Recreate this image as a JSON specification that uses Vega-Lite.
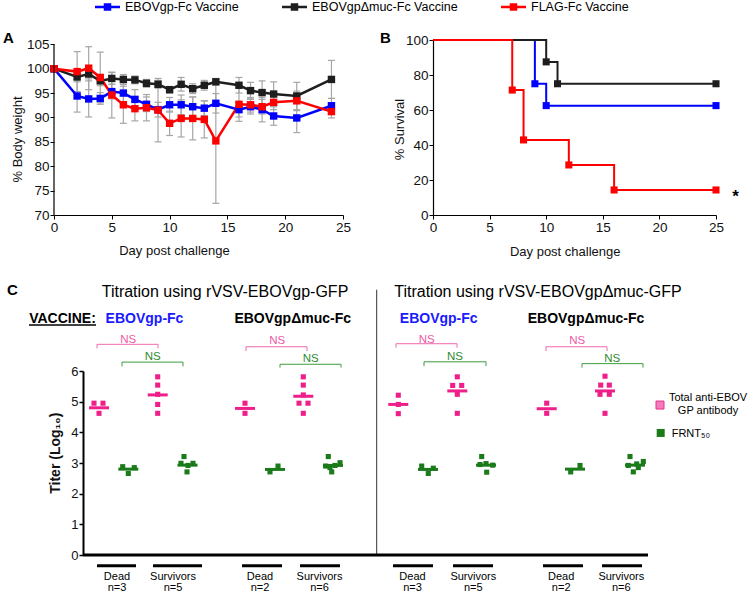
{
  "$schema": "https://vega.github.io/schema/vega-lite/v6.json",
  "padding": {"left": 3, "top": 0, "right": 0, "bottom": 0},
  "background": "white",
  "columns": 2,
  "bounds": "flush",
  "spacing": {"row": 156, "column": 90},
  "config": {
    "font": "Liberation Sans",
    "view": {"stroke": null},
    "axis": {"grid": false, "domainColor": "#000", "domainWidth": 1.2, "tickColor": "#000", "tickSize": 4, "labelColor": "#111", "labelFontSize": 13.5, "labelPadding": 1, "labelFlush": false, "titleColor": "#111", "titleFontSize": 13, "titleFontWeight": "normal"}
  },
  "datasets": {
    "weight": [
      {"vaccine": "EBOVgp-Fc Vaccine", "day": 0, "weight": 100, "lo": 100, "hi": 100},
      {"vaccine": "EBOVgp-Fc Vaccine", "day": 2, "weight": 94.4, "lo": 91.1, "hi": 97.7},
      {"vaccine": "EBOVgp-Fc Vaccine", "day": 3, "weight": 93.8, "lo": 90.1, "hi": 97.5},
      {"vaccine": "EBOVgp-Fc Vaccine", "day": 4, "weight": 93.9, "lo": 92.7, "hi": 95.1},
      {"vaccine": "EBOVgp-Fc Vaccine", "day": 5, "weight": 95.3, "lo": 93.8, "hi": 96.8},
      {"vaccine": "EBOVgp-Fc Vaccine", "day": 6, "weight": 95.0, "lo": 93.2, "hi": 96.8},
      {"vaccine": "EBOVgp-Fc Vaccine", "day": 7, "weight": 93.7, "lo": 91.7, "hi": 95.7},
      {"vaccine": "EBOVgp-Fc Vaccine", "day": 8, "weight": 92.7, "lo": 91.2, "hi": 94.2},
      {"vaccine": "EBOVgp-Fc Vaccine", "day": 9, "weight": 91.6, "lo": 90.1, "hi": 93.1},
      {"vaccine": "EBOVgp-Fc Vaccine", "day": 10, "weight": 92.6, "lo": 91.1, "hi": 94.1},
      {"vaccine": "EBOVgp-Fc Vaccine", "day": 11, "weight": 92.6, "lo": 90.6, "hi": 94.6},
      {"vaccine": "EBOVgp-Fc Vaccine", "day": 12, "weight": 92.2, "lo": 90.2, "hi": 94.2},
      {"vaccine": "EBOVgp-Fc Vaccine", "day": 13, "weight": 91.9, "lo": 90.4, "hi": 93.4},
      {"vaccine": "EBOVgp-Fc Vaccine", "day": 14, "weight": 92.9, "lo": 90.9, "hi": 94.9},
      {"vaccine": "EBOVgp-Fc Vaccine", "day": 16, "weight": 91.6, "lo": 90.1, "hi": 93.1},
      {"vaccine": "EBOVgp-Fc Vaccine", "day": 17, "weight": 92.2, "lo": 90.7, "hi": 93.7},
      {"vaccine": "EBOVgp-Fc Vaccine", "day": 18, "weight": 91.6, "lo": 89.1, "hi": 94.1},
      {"vaccine": "EBOVgp-Fc Vaccine", "day": 19, "weight": 90.3, "lo": 88.4, "hi": 92.2},
      {"vaccine": "EBOVgp-Fc Vaccine", "day": 21, "weight": 89.9, "lo": 86.9, "hi": 92.9},
      {"vaccine": "EBOVgp-Fc Vaccine", "day": 24, "weight": 92.4, "lo": 90.9, "hi": 93.9},
      {"vaccine": "EBOVgpΔmuc-Fc Vaccine", "day": 0, "weight": 100, "lo": 100, "hi": 100},
      {"vaccine": "EBOVgpΔmuc-Fc Vaccine", "day": 2, "weight": 98.3, "lo": 97.3, "hi": 99.3},
      {"vaccine": "EBOVgpΔmuc-Fc Vaccine", "day": 3, "weight": 98.9, "lo": 97.9, "hi": 99.9},
      {"vaccine": "EBOVgpΔmuc-Fc Vaccine", "day": 4, "weight": 97.5, "lo": 96.5, "hi": 98.5},
      {"vaccine": "EBOVgpΔmuc-Fc Vaccine", "day": 5, "weight": 98.0, "lo": 96.8, "hi": 99.2},
      {"vaccine": "EBOVgpΔmuc-Fc Vaccine", "day": 6, "weight": 97.8, "lo": 96.8, "hi": 98.8},
      {"vaccine": "EBOVgpΔmuc-Fc Vaccine", "day": 7, "weight": 97.7, "lo": 96.9, "hi": 98.5},
      {"vaccine": "EBOVgpΔmuc-Fc Vaccine", "day": 8, "weight": 97.0, "lo": 96.2, "hi": 97.8},
      {"vaccine": "EBOVgpΔmuc-Fc Vaccine", "day": 9, "weight": 96.8, "lo": 96.0, "hi": 97.6},
      {"vaccine": "EBOVgpΔmuc-Fc Vaccine", "day": 10, "weight": 95.7, "lo": 95.0, "hi": 96.3},
      {"vaccine": "EBOVgpΔmuc-Fc Vaccine", "day": 11, "weight": 96.8, "lo": 95.4, "hi": 98.2},
      {"vaccine": "EBOVgpΔmuc-Fc Vaccine", "day": 12, "weight": 95.9, "lo": 94.9, "hi": 96.9},
      {"vaccine": "EBOVgpΔmuc-Fc Vaccine", "day": 13, "weight": 96.6, "lo": 95.6, "hi": 97.6},
      {"vaccine": "EBOVgpΔmuc-Fc Vaccine", "day": 14, "weight": 97.3, "lo": 96.7, "hi": 97.9},
      {"vaccine": "EBOVgpΔmuc-Fc Vaccine", "day": 16, "weight": 96.6, "lo": 95.0, "hi": 98.2},
      {"vaccine": "EBOVgpΔmuc-Fc Vaccine", "day": 17, "weight": 95.5, "lo": 93.8, "hi": 97.2},
      {"vaccine": "EBOVgpΔmuc-Fc Vaccine", "day": 18, "weight": 95.1, "lo": 92.7, "hi": 97.5},
      {"vaccine": "EBOVgpΔmuc-Fc Vaccine", "day": 19, "weight": 94.8, "lo": 92.3, "hi": 97.3},
      {"vaccine": "EBOVgpΔmuc-Fc Vaccine", "day": 21, "weight": 94.4, "lo": 91.6, "hi": 97.2},
      {"vaccine": "EBOVgpΔmuc-Fc Vaccine", "day": 24, "weight": 97.8, "lo": 93.9, "hi": 101.7},
      {"vaccine": "FLAG-Fc Vaccine", "day": 0, "weight": 100, "lo": 100, "hi": 100},
      {"vaccine": "FLAG-Fc Vaccine", "day": 2, "weight": 99.4, "lo": 95.3, "hi": 103.5},
      {"vaccine": "FLAG-Fc Vaccine", "day": 3, "weight": 100.1, "lo": 95.7, "hi": 104.5},
      {"vaccine": "FLAG-Fc Vaccine", "day": 4, "weight": 98.2, "lo": 93.0, "hi": 103.4},
      {"vaccine": "FLAG-Fc Vaccine", "day": 5, "weight": 94.6, "lo": 89.9, "hi": 99.3},
      {"vaccine": "FLAG-Fc Vaccine", "day": 6, "weight": 92.6, "lo": 88.8, "hi": 96.4},
      {"vaccine": "FLAG-Fc Vaccine", "day": 7, "weight": 91.8, "lo": 89.3, "hi": 94.3},
      {"vaccine": "FLAG-Fc Vaccine", "day": 8, "weight": 92.0, "lo": 89.3, "hi": 94.7},
      {"vaccine": "FLAG-Fc Vaccine", "day": 9, "weight": 91.5, "lo": 85.0, "hi": 98.0},
      {"vaccine": "FLAG-Fc Vaccine", "day": 10, "weight": 88.8, "lo": 86.3, "hi": 91.3},
      {"vaccine": "FLAG-Fc Vaccine", "day": 11, "weight": 89.8, "lo": 86.0, "hi": 93.6},
      {"vaccine": "FLAG-Fc Vaccine", "day": 12, "weight": 89.8, "lo": 85.4, "hi": 94.2},
      {"vaccine": "FLAG-Fc Vaccine", "day": 13, "weight": 89.6, "lo": 85.8, "hi": 93.4},
      {"vaccine": "FLAG-Fc Vaccine", "day": 14, "weight": 85.2, "lo": 72.4, "hi": 98.0},
      {"vaccine": "FLAG-Fc Vaccine", "day": 16, "weight": 92.7, "lo": 89.2, "hi": 96.2},
      {"vaccine": "FLAG-Fc Vaccine", "day": 17, "weight": 92.6, "lo": 91.1, "hi": 94.1},
      {"vaccine": "FLAG-Fc Vaccine", "day": 18, "weight": 92.2, "lo": 90.7, "hi": 93.7},
      {"vaccine": "FLAG-Fc Vaccine", "day": 19, "weight": 93.1, "lo": 91.6, "hi": 94.6},
      {"vaccine": "FLAG-Fc Vaccine", "day": 21, "weight": 93.4, "lo": 91.4, "hi": 95.4},
      {"vaccine": "FLAG-Fc Vaccine", "day": 24, "weight": 91.2, "lo": 89.9, "hi": 92.5}
    ],
    "survival": [
      {"vaccine": "EBOVgp-Fc Vaccine", "day": 0, "survival": 100, "marker": false},
      {"vaccine": "EBOVgp-Fc Vaccine", "day": 9, "survival": 75, "marker": true},
      {"vaccine": "EBOVgp-Fc Vaccine", "day": 10, "survival": 62.5, "marker": true},
      {"vaccine": "EBOVgp-Fc Vaccine", "day": 25, "survival": 62.5, "marker": true},
      {"vaccine": "EBOVgpΔmuc-Fc Vaccine", "day": 0, "survival": 100, "marker": false},
      {"vaccine": "EBOVgpΔmuc-Fc Vaccine", "day": 10, "survival": 87.5, "marker": true},
      {"vaccine": "EBOVgpΔmuc-Fc Vaccine", "day": 11, "survival": 75, "marker": true},
      {"vaccine": "EBOVgpΔmuc-Fc Vaccine", "day": 25, "survival": 75, "marker": true},
      {"vaccine": "FLAG-Fc Vaccine", "day": 0, "survival": 100, "marker": false},
      {"vaccine": "FLAG-Fc Vaccine", "day": 7, "survival": 71.4, "marker": true},
      {"vaccine": "FLAG-Fc Vaccine", "day": 8, "survival": 42.9, "marker": true},
      {"vaccine": "FLAG-Fc Vaccine", "day": 12, "survival": 28.6, "marker": true},
      {"vaccine": "FLAG-Fc Vaccine", "day": 16, "survival": 14.3, "marker": true},
      {"vaccine": "FLAG-Fc Vaccine", "day": 25, "survival": 14.3, "marker": true}
    ],
    "titer": [
      {"group": 1, "outcome": "Dead", "measure": "Total anti-EBOV GP antibody", "pos": 11, "titer": 4.95},
      {"group": 1, "outcome": "Dead", "measure": "Total anti-EBOV GP antibody", "pos": 20, "titer": 4.95},
      {"group": 1, "outcome": "Dead", "measure": "Total anti-EBOV GP antibody", "pos": 16, "titer": 4.62},
      {"group": 1, "outcome": "Survivors", "measure": "Total anti-EBOV GP antibody", "pos": 74.7, "titer": 5.81},
      {"group": 1, "outcome": "Survivors", "measure": "Total anti-EBOV GP antibody", "pos": 74.7, "titer": 5.54},
      {"group": 1, "outcome": "Survivors", "measure": "Total anti-EBOV GP antibody", "pos": 74.7, "titer": 5.24},
      {"group": 1, "outcome": "Survivors", "measure": "Total anti-EBOV GP antibody", "pos": 74.7, "titer": 4.91},
      {"group": 1, "outcome": "Survivors", "measure": "Total anti-EBOV GP antibody", "pos": 74.7, "titer": 4.62},
      {"group": 1, "outcome": "Dead", "measure": "FRNT50", "pos": 39.7, "titer": 2.88},
      {"group": 1, "outcome": "Dead", "measure": "FRNT50", "pos": 51.3, "titer": 2.85},
      {"group": 1, "outcome": "Dead", "measure": "FRNT50", "pos": 45.3, "titer": 2.66},
      {"group": 1, "outcome": "Survivors", "measure": "FRNT50", "pos": 101, "titer": 3.21},
      {"group": 1, "outcome": "Survivors", "measure": "FRNT50", "pos": 98, "titer": 2.99},
      {"group": 1, "outcome": "Survivors", "measure": "FRNT50", "pos": 110, "titer": 2.99},
      {"group": 1, "outcome": "Survivors", "measure": "FRNT50", "pos": 105, "titer": 2.92},
      {"group": 1, "outcome": "Survivors", "measure": "FRNT50", "pos": 104, "titer": 2.71},
      {"group": 2, "outcome": "Dead", "measure": "Total anti-EBOV GP antibody", "pos": 162, "titer": 4.95},
      {"group": 2, "outcome": "Dead", "measure": "Total anti-EBOV GP antibody", "pos": 162, "titer": 4.62},
      {"group": 2, "outcome": "Survivors", "measure": "Total anti-EBOV GP antibody", "pos": 220.3, "titer": 5.81},
      {"group": 2, "outcome": "Survivors", "measure": "Total anti-EBOV GP antibody", "pos": 220.3, "titer": 5.54},
      {"group": 2, "outcome": "Survivors", "measure": "Total anti-EBOV GP antibody", "pos": 220.3, "titer": 5.22},
      {"group": 2, "outcome": "Survivors", "measure": "Total anti-EBOV GP antibody", "pos": 216, "titer": 4.95},
      {"group": 2, "outcome": "Survivors", "measure": "Total anti-EBOV GP antibody", "pos": 225, "titer": 4.95},
      {"group": 2, "outcome": "Survivors", "measure": "Total anti-EBOV GP antibody", "pos": 220.3, "titer": 4.62},
      {"group": 2, "outcome": "Dead", "measure": "FRNT50", "pos": 187, "titer": 2.71},
      {"group": 2, "outcome": "Dead", "measure": "FRNT50", "pos": 195, "titer": 2.90},
      {"group": 2, "outcome": "Survivors", "measure": "FRNT50", "pos": 245.3, "titer": 3.21},
      {"group": 2, "outcome": "Survivors", "measure": "FRNT50", "pos": 257, "titer": 3.01},
      {"group": 2, "outcome": "Survivors", "measure": "FRNT50", "pos": 252, "titer": 2.92},
      {"group": 2, "outcome": "Survivors", "measure": "FRNT50", "pos": 242.7, "titer": 2.90},
      {"group": 2, "outcome": "Survivors", "measure": "FRNT50", "pos": 248.7, "titer": 2.71},
      {"group": 2, "outcome": "Survivors", "measure": "FRNT50", "pos": 247, "titer": 2.85},
      {"group": 3, "outcome": "Dead", "measure": "Total anti-EBOV GP antibody", "pos": 315.3, "titer": 5.21},
      {"group": 3, "outcome": "Dead", "measure": "Total anti-EBOV GP antibody", "pos": 315.3, "titer": 4.91},
      {"group": 3, "outcome": "Dead", "measure": "Total anti-EBOV GP antibody", "pos": 315.3, "titer": 4.61},
      {"group": 3, "outcome": "Survivors", "measure": "Total anti-EBOV GP antibody", "pos": 374.3, "titer": 5.81},
      {"group": 3, "outcome": "Survivors", "measure": "Total anti-EBOV GP antibody", "pos": 369.7, "titer": 5.53},
      {"group": 3, "outcome": "Survivors", "measure": "Total anti-EBOV GP antibody", "pos": 378.7, "titer": 5.53},
      {"group": 3, "outcome": "Survivors", "measure": "Total anti-EBOV GP antibody", "pos": 374.3, "titer": 5.24},
      {"group": 3, "outcome": "Survivors", "measure": "Total anti-EBOV GP antibody", "pos": 374.3, "titer": 4.62},
      {"group": 3, "outcome": "Dead", "measure": "FRNT50", "pos": 338.7, "titer": 2.90},
      {"group": 3, "outcome": "Dead", "measure": "FRNT50", "pos": 350.3, "titer": 2.83},
      {"group": 3, "outcome": "Dead", "measure": "FRNT50", "pos": 345.3, "titer": 2.66},
      {"group": 3, "outcome": "Survivors", "measure": "FRNT50", "pos": 398.7, "titer": 3.21},
      {"group": 3, "outcome": "Survivors", "measure": "FRNT50", "pos": 397, "titer": 2.95},
      {"group": 3, "outcome": "Survivors", "measure": "FRNT50", "pos": 409.7, "titer": 2.93},
      {"group": 3, "outcome": "Survivors", "measure": "FRNT50", "pos": 403.7, "titer": 2.70},
      {"group": 3, "outcome": "Survivors", "measure": "FRNT50", "pos": 403, "titer": 2.98},
      {"group": 4, "outcome": "Dead", "measure": "Total anti-EBOV GP antibody", "pos": 463.7, "titer": 4.95},
      {"group": 4, "outcome": "Dead", "measure": "Total anti-EBOV GP antibody", "pos": 463.7, "titer": 4.62},
      {"group": 4, "outcome": "Survivors", "measure": "Total anti-EBOV GP antibody", "pos": 522, "titer": 5.83},
      {"group": 4, "outcome": "Survivors", "measure": "Total anti-EBOV GP antibody", "pos": 517.7, "titer": 5.54},
      {"group": 4, "outcome": "Survivors", "measure": "Total anti-EBOV GP antibody", "pos": 526.3, "titer": 5.54},
      {"group": 4, "outcome": "Survivors", "measure": "Total anti-EBOV GP antibody", "pos": 517, "titer": 5.24},
      {"group": 4, "outcome": "Survivors", "measure": "Total anti-EBOV GP antibody", "pos": 526.3, "titer": 5.24},
      {"group": 4, "outcome": "Survivors", "measure": "Total anti-EBOV GP antibody", "pos": 522, "titer": 4.62},
      {"group": 4, "outcome": "Dead", "measure": "FRNT50", "pos": 497, "titer": 2.92},
      {"group": 4, "outcome": "Dead", "measure": "FRNT50", "pos": 487.7, "titer": 2.71},
      {"group": 4, "outcome": "Survivors", "measure": "FRNT50", "pos": 547, "titer": 3.21},
      {"group": 4, "outcome": "Survivors", "measure": "FRNT50", "pos": 560.3, "titer": 3.05},
      {"group": 4, "outcome": "Survivors", "measure": "FRNT50", "pos": 553.7, "titer": 2.97},
      {"group": 4, "outcome": "Survivors", "measure": "FRNT50", "pos": 545.3, "titer": 2.92},
      {"group": 4, "outcome": "Survivors", "measure": "FRNT50", "pos": 550.3, "titer": 2.71},
      {"group": 4, "outcome": "Survivors", "measure": "FRNT50", "pos": 555.3, "titer": 2.85}
    ],
    "titerMean": [
      {"group": 1, "outcome": "Dead", "measure": "Total anti-EBOV GP antibody", "pos": 16, "mean": 4.80},
      {"group": 1, "outcome": "Survivors", "measure": "Total anti-EBOV GP antibody", "pos": 74.7, "mean": 5.22},
      {"group": 1, "outcome": "Dead", "measure": "FRNT50", "pos": 45.3, "mean": 2.80},
      {"group": 1, "outcome": "Survivors", "measure": "FRNT50", "pos": 104.5, "mean": 2.93},
      {"group": 2, "outcome": "Dead", "measure": "Total anti-EBOV GP antibody", "pos": 162, "mean": 4.78},
      {"group": 2, "outcome": "Survivors", "measure": "Total anti-EBOV GP antibody", "pos": 220.3, "mean": 5.18},
      {"group": 2, "outcome": "Dead", "measure": "FRNT50", "pos": 192, "mean": 2.79},
      {"group": 2, "outcome": "Survivors", "measure": "FRNT50", "pos": 250, "mean": 2.92},
      {"group": 3, "outcome": "Dead", "measure": "Total anti-EBOV GP antibody", "pos": 315.3, "mean": 4.91},
      {"group": 3, "outcome": "Survivors", "measure": "Total anti-EBOV GP antibody", "pos": 374.3, "mean": 5.35},
      {"group": 3, "outcome": "Dead", "measure": "FRNT50", "pos": 345, "mean": 2.79},
      {"group": 3, "outcome": "Survivors", "measure": "FRNT50", "pos": 403, "mean": 2.93},
      {"group": 4, "outcome": "Dead", "measure": "Total anti-EBOV GP antibody", "pos": 463.7, "mean": 4.77},
      {"group": 4, "outcome": "Survivors", "measure": "Total anti-EBOV GP antibody", "pos": 522, "mean": 5.35},
      {"group": 4, "outcome": "Dead", "measure": "FRNT50", "pos": 492, "mean": 2.80},
      {"group": 4, "outcome": "Survivors", "measure": "FRNT50", "pos": 552, "mean": 2.93}
    ],
    "groups": [
      {"group": 1, "outcome": "Dead", "n": "n=3", "x1": 14, "x2": 53, "xc": 34},
      {"group": 1, "outcome": "Survivors", "n": "n=5", "x1": 70, "x2": 119, "xc": 90},
      {"group": 2, "outcome": "Dead", "n": "n=2", "x1": 159, "x2": 199, "xc": 177},
      {"group": 2, "outcome": "Survivors", "n": "n=6", "x1": 217, "x2": 257, "xc": 236.5},
      {"group": 3, "outcome": "Dead", "n": "n=3", "x1": 310, "x2": 350, "xc": 329.5},
      {"group": 3, "outcome": "Survivors", "n": "n=5", "x1": 370, "x2": 410, "xc": 390.3},
      {"group": 4, "outcome": "Dead", "n": "n=2", "x1": 460, "x2": 500, "xc": 478.2},
      {"group": 4, "outcome": "Survivors", "n": "n=6", "x1": 519, "x2": 559, "xc": 538.3}
    ],
    "brackets": [
      {"group": 1, "measure": "Total anti-EBOV GP antibody", "ns": "NS", "x1": 14, "x2": 75, "y": 6.87, "yEnd": 6.74, "xNS": 45.3, "yNS": 6.92},
      {"group": 1, "measure": "FRNT50", "ns": "NS", "x1": 39, "x2": 100, "y": 6.29, "yEnd": 6.15, "xNS": 69.7, "yNS": 6.36},
      {"group": 2, "measure": "Total anti-EBOV GP antibody", "ns": "NS", "x1": 163, "x2": 224, "y": 6.79, "yEnd": 6.65, "xNS": 194.3, "yNS": 6.87},
      {"group": 2, "measure": "FRNT50", "ns": "NS", "x1": 197, "x2": 258, "y": 6.22, "yEnd": 6.11, "xNS": 227.7, "yNS": 6.30},
      {"group": 3, "measure": "Total anti-EBOV GP antibody", "ns": "NS", "x1": 313, "x2": 374, "y": 6.89, "yEnd": 6.76, "xNS": 343.7, "yNS": 6.92},
      {"group": 3, "measure": "FRNT50", "ns": "NS", "x1": 341, "x2": 403, "y": 6.30, "yEnd": 6.16, "xNS": 372, "yNS": 6.36},
      {"group": 4, "measure": "Total anti-EBOV GP antibody", "ns": "NS", "x1": 463, "x2": 524, "y": 6.79, "yEnd": 6.65, "xNS": 494.3, "yNS": 6.87},
      {"group": 4, "measure": "FRNT50", "ns": "NS", "x1": 499, "x2": 560, "y": 6.24, "yEnd": 6.11, "xNS": 529.3, "yNS": 6.30}
    ],
    "panels": [
      {"title": "Titration using rVSV-EBOVgp-GFP", "xc": 142},
      {"title": "Titration using rVSV-EBOVgpΔmuc-GFP", "xc": 455}
    ],
    "vaccines": [
      {"vaccine": "EBOVgp-Fc", "xc": 61.5},
      {"vaccine": "EBOVgpΔmuc-Fc", "xc": 209.7},
      {"vaccine": "EBOVgp-Fc", "xc": 355.7},
      {"vaccine": "EBOVgpΔmuc-Fc", "xc": 503}
    ]
  },
  "concat": [
    {
      "width": 289,
      "height": 175,
      "layer": [
        {
          "data": {"name": "weight"},
          "mark": {"type": "rule", "color": "#a6a6a6", "strokeWidth": 1.2},
          "encoding": {
            "x": {"field": "day", "type": "quantitative", "scale": {"domain": [0, 25], "nice": false}, "axis": {"values": [0, 5, 10, 15, 20, 25], "tickCount": 20, "format": "d", "labelOverlap": false, "title": "Day post challenge", "titleX": 120, "titleY": 39.3, "titleAlign": "center", "titleBaseline": "alphabetic"}},
            "y": {"field": "lo", "type": "quantitative", "scale": {"domain": [70, 105.88], "nice": false, "zero": false}, "axis": {"values": [70, 75, 80, 85, 90, 95, 100, 105], "tickCount": 20, "format": "d", "labelOverlap": false, "domain": false, "title": "% Body weight", "titleX": -33, "titleY": 99, "titleAngle": -90, "titleAlign": "center", "titleBaseline": "alphabetic"}},
            "y2": {"field": "hi"}
          }
        },
        {
          "data": {"name": "weight"},
          "mark": {"type": "tick", "orient": "horizontal", "color": "#a6a6a6", "size": 7, "thickness": 1.2, "opacity": 1},
          "encoding": {
            "x": {"field": "day", "type": "quantitative"},
            "y": {"field": "lo", "type": "quantitative"}
          }
        },
        {
          "data": {"name": "weight"},
          "mark": {"type": "tick", "orient": "horizontal", "color": "#a6a6a6", "size": 7, "thickness": 1.2, "opacity": 1},
          "encoding": {
            "x": {"field": "day", "type": "quantitative"},
            "y": {"field": "hi", "type": "quantitative"}
          }
        },
        {
          "data": {"name": "weight"},
          "mark": {"type": "line", "strokeWidth": 2.5, "point": {"shape": "square", "size": 55, "filled": true, "opacity": 1}},
          "encoding": {
            "x": {"field": "day", "type": "quantitative"},
            "y": {"field": "weight", "type": "quantitative"},
            "color": {
              "field": "vaccine", "type": "nominal",
              "scale": {"domain": ["EBOVgp-Fc Vaccine", "EBOVgpΔmuc-Fc Vaccine", "FLAG-Fc Vaccine"], "range": ["#0000ff", "#1e1e1e", "#ff0000"]},
              "legend": {
                "orient": "none", "legendX": 47, "legendY": -39.5, "direction": "horizontal", "title": null,
                "symbolType": "M-2.5,0H2.5M-0.5,-0.5H0.5V0.5H-0.5Z", "symbolSize": 100, "symbolStrokeWidth": 2.5,
                "labelFontSize": 12.5, "labelColor": "#000", "labelOffset": 11, "columnPadding": 38
              }
            }
          }
        },
        {
          "data": {"values": [{"a": 1}]},
          "mark": {"type": "rule", "color": "#000", "strokeWidth": 1.2},
          "encoding": {
            "x": {"datum": 0, "type": "quantitative"},
            "y": {"datum": 70, "type": "quantitative"},
            "y2": {"datum": 105}
          }
        },
        {
          "data": {"values": [{"label": "A"}]},
          "mark": {"type": "text", "fontSize": 15, "fontWeight": "bold", "align": "left", "baseline": "alphabetic", "color": "#000"},
          "encoding": {
            "x": {"datum": -4.41, "type": "quantitative"},
            "y": {"datum": 105.33, "type": "quantitative"},
            "text": {"field": "label", "type": "nominal"}
          }
        }
      ]
    },
    {
      "width": 283,
      "height": 175,
      "layer": [
        {
          "data": {"name": "survival"},
          "mark": {"type": "line", "interpolate": "step-after", "strokeWidth": 2},
          "encoding": {
            "x": {"field": "day", "type": "quantitative", "scale": {"domain": [0, 25], "nice": false}, "axis": {"values": [0, 5, 10, 15, 20, 25], "tickCount": 20, "format": "d", "labelOverlap": false, "title": "Day post challenge", "titleX": 131.7, "titleY": 40, "titleAlign": "center", "titleBaseline": "alphabetic"}},
            "y": {"field": "survival", "type": "quantitative", "scale": {"domain": [0, 100], "nice": false}, "axis": {"values": [0, 20, 40, 60, 80, 100], "tickCount": 20, "format": "d", "labelOverlap": false, "title": "% Survival", "titleX": -30, "titleY": 89, "titleAngle": -90, "titleAlign": "center", "titleBaseline": "alphabetic"}},
            "color": {"field": "vaccine", "type": "nominal"}
          }
        },
        {
          "data": {"name": "survival"},
          "transform": [{"filter": "datum.marker"}],
          "mark": {"type": "square", "size": 50, "filled": true, "opacity": 1},
          "encoding": {
            "x": {"field": "day", "type": "quantitative"},
            "y": {"field": "survival", "type": "quantitative"},
            "color": {"field": "vaccine", "type": "nominal"}
          }
        },
        {
          "data": {"values": [{"label": "*"}]},
          "mark": {"type": "text", "fontSize": 17, "fontWeight": "bold", "align": "center", "baseline": "alphabetic", "color": "#000"},
          "encoding": {
            "x": {"datum": 26.72, "type": "quantitative"},
            "y": {"datum": 7.3, "type": "quantitative"},
            "text": {"field": "label", "type": "nominal"}
          }
        },
        {
          "data": {"values": [{"label": "B"}]},
          "mark": {"type": "text", "fontSize": 15, "fontWeight": "bold", "align": "left", "baseline": "alphabetic", "color": "#000"},
          "encoding": {
            "x": {"datum": -4.68, "type": "quantitative"},
            "y": {"datum": 98.46, "type": "quantitative"},
            "text": {"field": "label", "type": "nominal"}
          }
        }
      ]
    },
    {
      "width": 289,
      "height": 184,
      "layer": [
        {
          "data": {"name": "titer"},
          "mark": {"type": "square", "size": 26, "filled": true, "opacity": 1},
          "encoding": {
            "x": {"field": "pos", "type": "quantitative", "scale": {"domain": [-29, 260], "nice": false, "zero": false}, "axis": {"title": null, "labels": false, "ticks": false, "domain": false}},
            "y": {"field": "titer", "type": "quantitative", "scale": {"domain": [0, 6], "nice": false}, "axis": {"values": [0, 1, 2, 3, 4, 5, 6], "tickCount": 20, "format": "d", "labelOverlap": false, "offset": -29, "domainWidth": 2, "tickWidth": 1.5, "tickSize": 4, "labelFontSize": 13, "labelPadding": 1, "title": "Titer (Log₁₀)", "titleFontWeight": "bold", "titleFontSize": 14, "titleX": -23.7, "titleY": 81.7, "titleAngle": -90, "titleAlign": "center", "titleBaseline": "alphabetic"}},
            "color": {"condition": {"test": "datum.measure === 'FRNT50'", "value": "#1b7b1b"}, "value": "#ee1f8a"}
          }
        },
        {
          "data": {"name": "titerMean"},
          "mark": {"type": "tick", "orient": "horizontal", "size": 20, "thickness": 3, "opacity": 1},
          "encoding": {
            "x": {"field": "pos", "type": "quantitative"},
            "y": {"field": "mean", "type": "quantitative"},
            "color": {"condition": {"test": "datum.measure === 'FRNT50'", "value": "#1b7b1b"}, "value": "#ee1f8a"}
          }
        },
        {
          "data": {"values": [{"a": 1}]},
          "mark": {"type": "rule", "color": "#333", "strokeWidth": 1},
          "encoding": {
            "x": {"datum": 293.7, "type": "quantitative"},
            "y": {"datum": 0, "type": "quantitative"},
            "y2": {"datum": 8.65}
          }
        },
        {
          "data": {"values": [{"a": 1}]},
          "mark": {"type": "rule", "color": "#000", "strokeWidth": 3},
          "encoding": {
            "x": {"datum": 0, "type": "quantitative"},
            "x2": {"datum": 565},
            "y": {"datum": 0, "type": "quantitative"}
          }
        },
        {
          "data": {"name": "groups"},
          "mark": {"type": "rule", "color": "#000", "strokeWidth": 3},
          "encoding": {
            "x": {"field": "x1", "type": "quantitative"},
            "x2": {"field": "x2"},
            "y": {"datum": -0.35, "type": "quantitative"}
          }
        },
        {
          "data": {"name": "groups"},
          "mark": {"type": "text", "fontSize": 11, "align": "center", "baseline": "alphabetic", "color": "#000"},
          "encoding": {
            "x": {"field": "xc", "type": "quantitative"},
            "y": {"datum": -0.83, "type": "quantitative"},
            "text": {"field": "outcome", "type": "nominal"}
          }
        },
        {
          "data": {"name": "groups"},
          "mark": {"type": "text", "fontSize": 11, "align": "center", "baseline": "alphabetic", "color": "#000"},
          "encoding": {
            "x": {"field": "xc", "type": "quantitative"},
            "y": {"datum": -1.18, "type": "quantitative"},
            "text": {"field": "n", "type": "nominal"}
          }
        },
        {
          "data": {"name": "brackets"},
          "mark": {"type": "rule", "strokeWidth": 1},
          "encoding": {
            "x": {"field": "x1", "type": "quantitative"},
            "x2": {"field": "x2"},
            "y": {"field": "y", "type": "quantitative"},
            "color": {"condition": {"test": "datum.measure === 'FRNT50'", "value": "#3c9c3c"}, "value": "#ef6aae"}
          }
        },
        {
          "data": {"name": "brackets"},
          "mark": {"type": "rule", "strokeWidth": 1},
          "encoding": {
            "x": {"field": "x1", "type": "quantitative"},
            "y": {"field": "y", "type": "quantitative"},
            "y2": {"field": "yEnd"},
            "color": {"condition": {"test": "datum.measure === 'FRNT50'", "value": "#3c9c3c"}, "value": "#ef6aae"}
          }
        },
        {
          "data": {"name": "brackets"},
          "mark": {"type": "rule", "strokeWidth": 1},
          "encoding": {
            "x": {"field": "x2", "type": "quantitative"},
            "y": {"field": "y", "type": "quantitative"},
            "y2": {"field": "yEnd"},
            "color": {"condition": {"test": "datum.measure === 'FRNT50'", "value": "#3c9c3c"}, "value": "#ef6aae"}
          }
        },
        {
          "data": {"name": "brackets"},
          "mark": {"type": "text", "fontSize": 11.5, "align": "center", "baseline": "alphabetic"},
          "encoding": {
            "x": {"field": "xNS", "type": "quantitative"},
            "y": {"field": "yNS", "type": "quantitative"},
            "text": {"field": "ns", "type": "nominal"},
            "color": {"condition": {"test": "datum.measure === 'FRNT50'", "value": "#2e8b2e"}, "value": "#ee5aa6"}
          }
        },
        {
          "data": {"name": "panels"},
          "mark": {"type": "text", "fontSize": 16, "align": "center", "baseline": "alphabetic", "color": "#000"},
          "encoding": {
            "x": {"field": "xc", "type": "quantitative"},
            "y": {"datum": 8.41, "type": "quantitative"},
            "text": {"field": "title", "type": "nominal"}
          }
        },
        {
          "data": {"name": "vaccines"},
          "mark": {"type": "text", "fontSize": 14, "fontWeight": "bold", "align": "center", "baseline": "alphabetic"},
          "encoding": {
            "x": {"field": "xc", "type": "quantitative"},
            "y": {"datum": 7.57, "type": "quantitative"},
            "text": {"field": "vaccine", "type": "nominal"},
            "color": {"condition": {"test": "datum.vaccine === 'EBOVgp-Fc'", "value": "#1a1aff"}, "value": "#000"}
          }
        },
        {
          "data": {"values": [{"label": "VACCINE:"}]},
          "mark": {"type": "text", "fontSize": 14, "fontWeight": "bold", "align": "center", "baseline": "alphabetic", "color": "#000"},
          "encoding": {
            "x": {"datum": -20.5, "type": "quantitative"},
            "y": {"datum": 7.57, "type": "quantitative"},
            "text": {"field": "label", "type": "nominal"}
          }
        },
        {
          "data": {"values": [{"label": "C"}]},
          "mark": {"type": "text", "fontSize": 15, "fontWeight": "bold", "align": "left", "baseline": "alphabetic", "color": "#000"},
          "encoding": {
            "x": {"datum": -76, "type": "quantitative"},
            "y": {"datum": 8.48, "type": "quantitative"},
            "text": {"field": "label", "type": "nominal"}
          }
        },
        {
          "data": {"values": [{"a": 1}]},
          "mark": {"type": "rule", "color": "#000", "strokeWidth": 1.5},
          "encoding": {
            "x": {"datum": -54, "type": "quantitative"},
            "x2": {"datum": 13},
            "y": {"datum": 7.5, "type": "quantitative"}
          }
        },
        {
          "data": {"values": [{"a": 1}]},
          "mark": {"type": "square", "size": 64, "filled": true, "opacity": 1, "color": "#f27cbb", "stroke": "#e8308c", "strokeWidth": 1},
          "encoding": {
            "x": {"datum": 577, "type": "quantitative"},
            "y": {"datum": 4.89, "type": "quantitative"}
          }
        },
        {
          "data": {"values": [{"a": 1}]},
          "mark": {"type": "square", "size": 64, "filled": true, "opacity": 1, "color": "#1b7b1b"},
          "encoding": {
            "x": {"datum": 577.7, "type": "quantitative"},
            "y": {"datum": 3.98, "type": "quantitative"}
          }
        },
        {
          "data": {"values": [{"label": "Total anti-EBOV"}]},
          "mark": {"type": "text", "fontSize": 11, "align": "center", "baseline": "alphabetic", "color": "#000"},
          "encoding": {
            "x": {"datum": 625, "type": "quantitative"},
            "y": {"datum": 5.02, "type": "quantitative"},
            "text": {"field": "label", "type": "nominal"}
          }
        },
        {
          "data": {"values": [{"label": "GP antibody"}]},
          "mark": {"type": "text", "fontSize": 11, "align": "center", "baseline": "alphabetic", "color": "#000"},
          "encoding": {
            "x": {"datum": 625, "type": "quantitative"},
            "y": {"datum": 4.6, "type": "quantitative"},
            "text": {"field": "label", "type": "nominal"}
          }
        },
        {
          "data": {"values": [{"label": "FRNT₅₀"}]},
          "mark": {"type": "text", "fontSize": 11, "align": "left", "baseline": "alphabetic", "color": "#000"},
          "encoding": {
            "x": {"datum": 588.7, "type": "quantitative"},
            "y": {"datum": 3.85, "type": "quantitative"},
            "text": {"field": "label", "type": "nominal"}
          }
        }
      ]
    }
  ]
}
